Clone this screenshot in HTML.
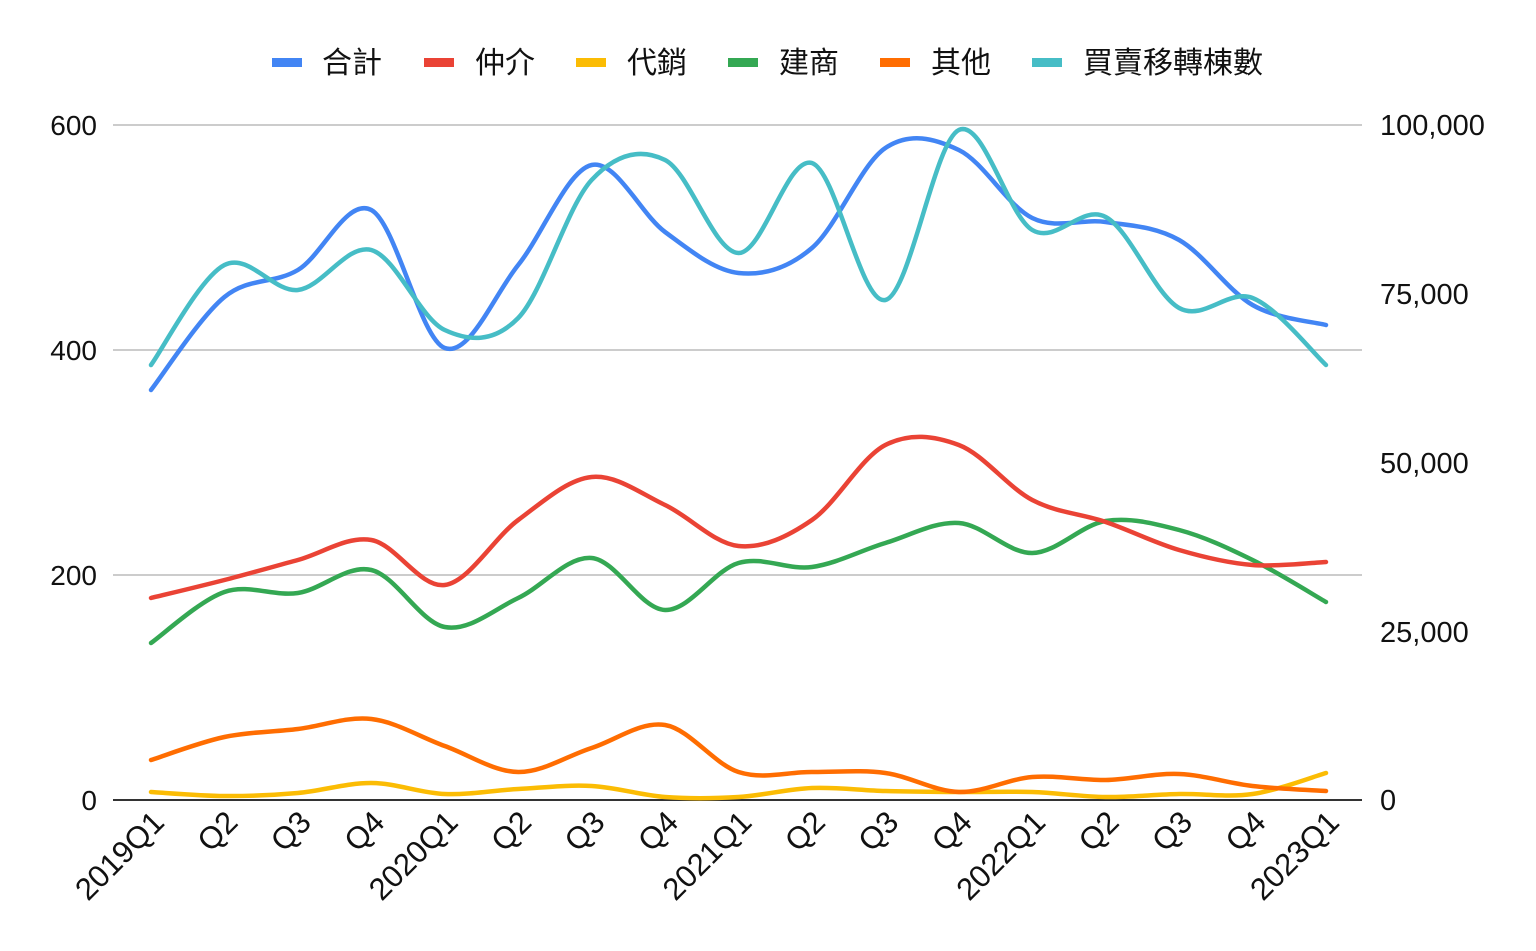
<!DOCTYPE html>
<html><head><meta charset="utf-8"><style>
html,body{margin:0;padding:0;background:#fff;}
svg{display:block;font-family:"Liberation Sans","Noto Sans CJK TC",sans-serif;}
</style></head><body>
<svg id="c" width="1536" height="951" viewBox="0 0 1536 951" xmlns="http://www.w3.org/2000/svg">
<g stroke="#cccccc" stroke-width="2">
<line x1="113" y1="125" x2="1362" y2="125"/>
<line x1="113" y1="350" x2="1362" y2="350"/>
<line x1="113" y1="575" x2="1362" y2="575"/>
</g>
<line x1="113" y1="800" x2="1362" y2="800" stroke="#333" stroke-width="2"/>
<g font-size="28" fill="#111" text-anchor="end">
<text x="97" y="135">600</text><text x="97" y="360">400</text><text x="97" y="585">200</text><text x="97" y="810">0</text>
</g>
<g font-size="29" fill="#111">
<text x="1380" y="135">100,000</text><text x="1380" y="304">75,000</text><text x="1380" y="473">50,000</text><text x="1380" y="642">25,000</text><text x="1380" y="810">0</text>
</g>
<g font-size="30" fill="#111">
<rect x="272" y="58" width="30" height="9" fill="#4285f4"/><text x="322" y="73">合計</text>
<rect x="424" y="58" width="30" height="9" fill="#ea4335"/><text x="475" y="73">仲介</text>
<rect x="576" y="58" width="30" height="9" fill="#fbbc04"/><text x="627" y="73">代銷</text>
<rect x="728" y="58" width="30" height="9" fill="#34a853"/><text x="779" y="73">建商</text>
<rect x="880" y="58" width="30" height="9" fill="#ff6d01"/><text x="931" y="73">其他</text>
<rect x="1032" y="58" width="30" height="9" fill="#46bdc6"/><text x="1083" y="73">買賣移轉棟數</text>
</g>
<g id="xl" font-size="31" fill="#111" text-anchor="end"></g>
<g id="ln" fill="none" stroke-width="4.5" stroke-linecap="round" stroke-linejoin="round"></g>
</svg>
<script>
var X=[];for(var i=0;i<17;i++)X.push(151+i*1175/16);
var labs=["2019Q1","Q2","Q3","Q4","2020Q1","Q2","Q3","Q4","2021Q1","Q2","Q3","Q4","2022Q1","Q2","Q3","Q4","2023Q1"];
var xl=document.getElementById('xl'),s='';
labs.forEach(function(l,i){var x=X[i]+15,y=824;s+='<text x="'+x+'" y="'+y+'" transform="rotate(-45 '+x+' '+y+')">'+l+'</text>';});
xl.innerHTML=s;
var S=[
["#fbbc04",[792,796,793,783,794,789,786,797,797,788,791,792,792,797,794,794,773]],
["#ff6d01",[760,737,729,719,746,772,748,725,772,772,773,792,777,780,774,786,791]],
["#34a853",[643,592,593,570,627,598,558,610,563,567,543,523,553,521,530,560,602]],
["#ea4335",[598,580,560,540,585,520,477,505,546,520,445,445,500,522,550,565,562]],
["#4285f4",[390,297,270,210,348,265,165,232,273,248,148,150,218,222,240,305,325]],
["#46bdc6",[365,265,290,250,330,318,180,160,253,163,300,130,230,217,308,298,365]]];
var g='';
S.forEach(function(s){var Y=s[1],d='M'+X[0]+','+Y[0];
for(var i=0;i<16;i++){var p0=i?i-1:0,p3=i<15?i+2:16;
var c1x=X[i]+(X[i+1]-X[p0])/6,c1y=Y[i]+(Y[i+1]-Y[p0])/6,c2x=X[i+1]-(X[p3]-X[i])/6,c2y=Y[i+1]-(Y[p3]-Y[i])/6;
d+=' C'+c1x+','+c1y+' '+c2x+','+c2y+' '+X[i+1]+','+Y[i+1];}
g+='<path d="'+d+'" stroke="'+s[0]+'"/>';});
document.getElementById('ln').innerHTML=g;
</script>
</body></html>
